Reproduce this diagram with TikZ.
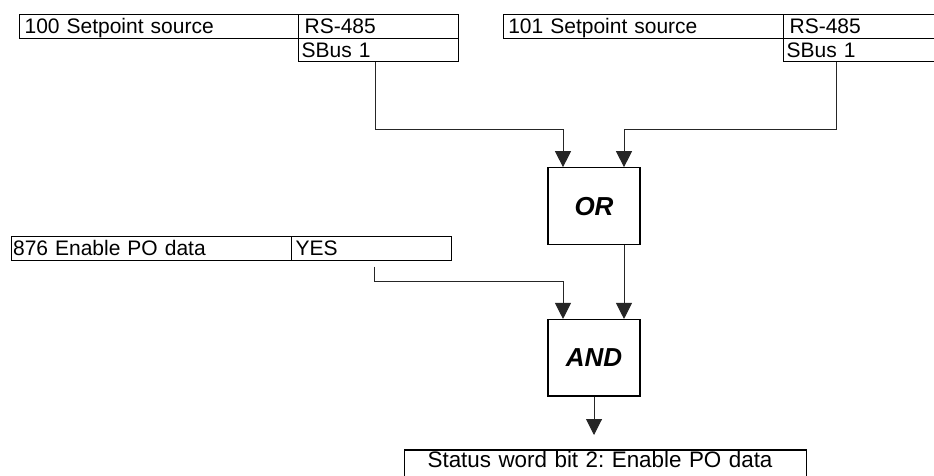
\documentclass[tikz,border=0pt]{standalone}
\usepackage{fontspec}
\setmainfont{Liberation Sans}
\usetikzlibrary{arrows.meta}
\frenchspacing
\tikzset{
  cell/.style={draw, line width=1.2pt, anchor=north west, inner ysep=0pt, inner xsep=5pt,
    minimum height=23.5pt, text height=15pt, text depth=0pt, align=left,
    font=\fontsize{21}{25}\selectfont},
  gate/.style={draw, line width=1.2pt, minimum width=92pt, minimum height=76.5pt, inner sep=0pt,
    text height=18pt, text depth=0pt, font=\fontsize{26}{30}\selectfont\bfseries\itshape},
  conn/.style={line width=1pt, draw=black!85},
  arr/.style={-{Triangle[width=16pt,length=16pt]}}
}
\begin{document}
\begin{tikzpicture}[x=1pt,y=-1pt]
\useasboundingbox (0,0) rectangle (934,475);
\clip (0,0) rectangle (934,475);
% 100 setpoint source
\node[cell, text width=269pt] (nA) at (19,14) {100 Setpoint source};
\node[cell, text width=147.7pt, inner xsep=6pt] (rsA) at (298,14) {RS-485};
\node[cell, inner xsep=3pt, text width=153.7pt] (sbA) at (298,37.5) {SBus 1};
% 101 setpoint source
\node[cell, text width=270.3pt] (nB) at (502.7,14) {101 Setpoint source};
\node[cell, text width=150pt, inner xsep=6pt] (rsB) at (783,14) {RS-485};
\node[cell, inner xsep=3pt, text width=156pt] (sbB) at (783,37.5) {SBus 1};
% 876
\node[cell, inner xsep=1.5pt, text width=277pt] (nC) at (11,236) {876 Enable PO data};
\node[cell, inner xsep=4pt, text width=152pt] (yesC) at (291,236) {YES};
% gates
\node[gate] (or) at (594,206) {OR};
\node[gate] (and) at (594,357.8) {AND};
% status
\node[draw, line width=1.2pt, anchor=north west, inner ysep=2.4pt, inner xsep=23pt,
  text width=356pt, align=left, text height=15pt, text depth=20pt,
  font=\fontsize{22.4}{26}\selectfont] (st) at (404,449.3) {Status word bit 2: Enable PO data};
% turning points
\coordinate (ka) at (375,129);
\coordinate (kb) at (836.7,129);
\coordinate (ks) at (374,266.7);
\coordinate (kc) at (374,281.7);
\coordinate (ta) at (594,435);
% connectors
\draw[conn,arr] (sbA.south -| ka) -- (ka) -| ([xshift=-31pt]or.north);
\draw[conn,arr] (sbB.south -| kb) -- (kb) -| ([xshift=30pt]or.north);
\draw[conn,arr] ([xshift=30pt]or.south) -- ([xshift=30pt]and.north);
\draw[conn,arr] (ks) -- (kc) -| ([xshift=-31pt]and.north);
\draw[conn,arr] (and.south) -- (ta);
\end{tikzpicture}
\end{document}
